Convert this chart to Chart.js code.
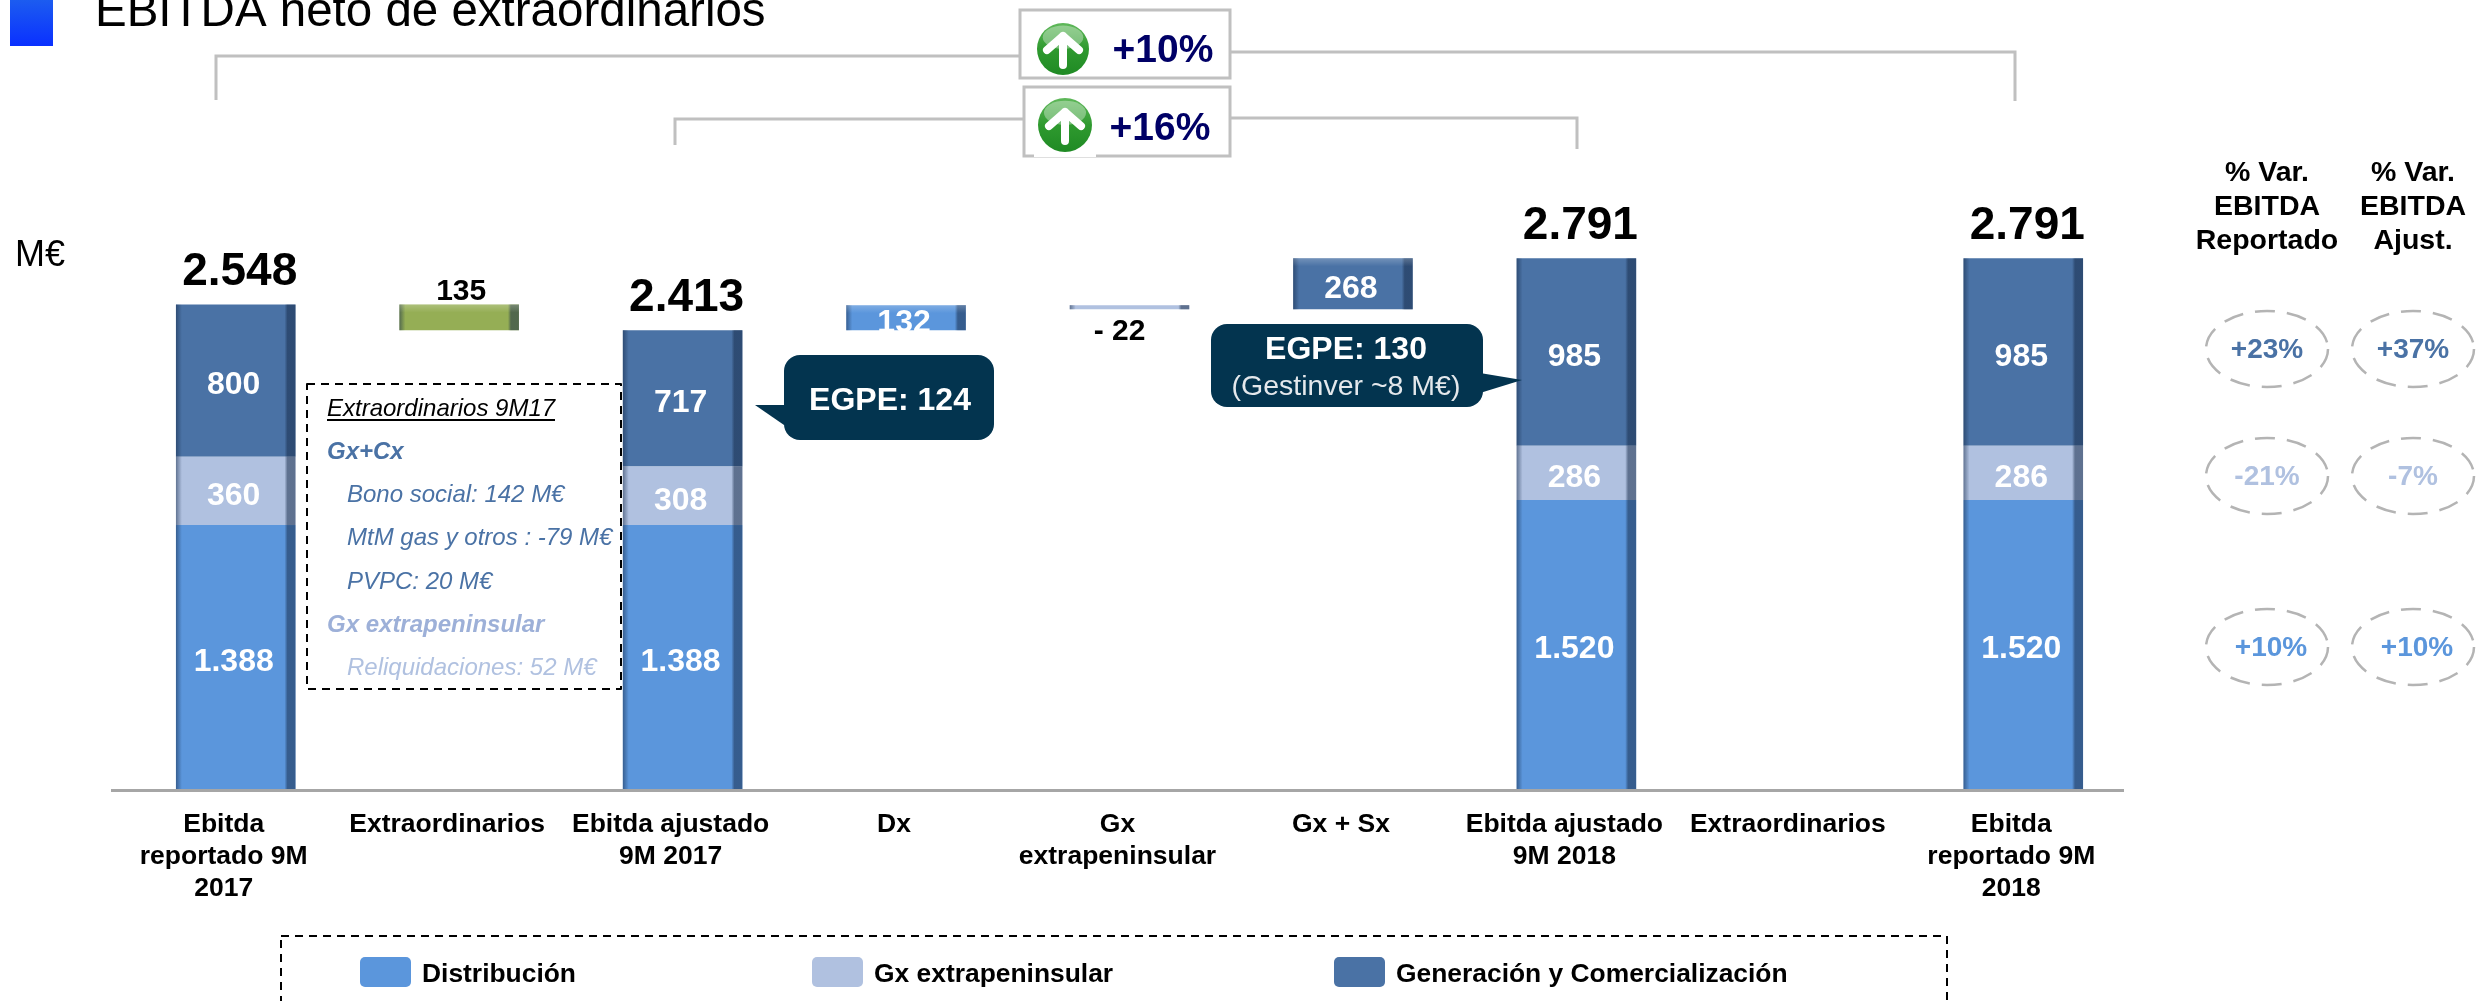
<!DOCTYPE html>
<html lang="es">

<head>
  <meta charset="UTF-8">
  <script src="https://cdn.jsdelivr.net/npm/chart.js@4"></script>
  <title>EBITDA neto de extraordinarios</title>
  <style>
    html, body { margin: 0; background: #fff; overflow: hidden; }
    canvas { display: block; }
  </style>
</head>

<body>
  <canvas id="myChart" width="2476" height="1001"></canvas>
  <script>
    const categories = [
      ['Ebitda', 'reportado 9M', '2017'], 'Extraordinarios', ['Ebitda ajustado', '9M 2017'],
      'Dx', ['Gx', 'extrapeninsular'], 'Gx + Sx', ['Ebitda ajustado', '9M 2018'],
      'Extraordinarios', ['Ebitda', 'reportado 9M', '2018']
    ];
    const offsetValues = [null, 2413, null, 2413, 2523, 2523, null, null, null];
    const distribucion = [1388, null, 1388, 132, null, null, 1520, null, 1520];
    const gxExtra = [360, null, 308, null, 22, null, 286, null, 286];
    const generacion = [800, null, 717, null, null, 268, 985, null, 985];
    const extraordinarios = [null, 135, null, null, null, null, null, null, null];
    const totals = [2548, null, 2413, null, null, null, 2791, null, 2791];

    const varHeaders = [['% Var.', 'EBITDA', 'Reportado'], ['% Var.', 'EBITDA', 'Ajust.']];
    const varReportado = ['+23%', '-21%', '+10%'];
    const varAjustado = ['+37%', '-7%', '+10%'];

    const BLUE = '#5b96dc', LIGHT = '#b0c1e0', DARK = '#4a72a5', GREEN = '#95ae55', NAVY = '#03344f';
    const FONT = '"Liberation Sans", Arial, sans-serif';

    function fmt(v) {
      return String(v).replace(/\B(?=(\d{3})+$)/g, '.');
    }

    function text(ctx, str, x, y, font, color, align) {
      ctx.font = font + ' ' + FONT;
      ctx.fillStyle = color;
      ctx.textAlign = align || 'center';
      ctx.textBaseline = 'middle';
      ctx.fillText(str, x, y + 2);
    }

    function roundBox(ctx, x, y, w, h, r, color) {
      ctx.fillStyle = color;
      ctx.beginPath();
      ctx.roundRect(x, y, w, h, r);
      ctx.fill();
    }

    function arrowIcon(ctx, cx, cy, r) {
      const g = ctx.createLinearGradient(0, cy - r, 0, cy + r);
      g.addColorStop(0, '#5fb85a');
      g.addColorStop(0.5, '#2f9a2f');
      g.addColorStop(1, '#1f8a24');
      ctx.fillStyle = g;
      ctx.beginPath();
      ctx.arc(cx, cy, r, 0, Math.PI * 2);
      ctx.fill();
      ctx.fillStyle = 'rgba(255,255,255,0.35)';
      ctx.beginPath();
      ctx.ellipse(cx, cy - r * 0.45, r * 0.78, r * 0.45, 0, 0, Math.PI * 2);
      ctx.fill();
      ctx.strokeStyle = '#fff';
      ctx.lineWidth = 8;
      ctx.lineCap = 'round';
      ctx.lineJoin = 'round';
      ctx.beginPath();
      ctx.moveTo(cx, cy + 16);
      ctx.lineTo(cx, cy - 13);
      ctx.moveTo(cx - 16, cy + 1);
      ctx.lineTo(cx, cy - 13);
      ctx.lineTo(cx + 16, cy + 1);
      ctx.stroke();
      ctx.lineCap = 'butt';
    }

    const baseLine = {
      id: 'baseLine',
      beforeDatasetsDraw(chart) {
        const ctx = chart.ctx;
        const y = chart.scales.y.getPixelForValue(0) + 1;
        ctx.save();
        ctx.fillStyle = '#a6a6a6';
        ctx.fillRect(111, y - 1, 2013, 3);
        ctx.restore();
      }
    };

    // bevel on the bars and the value labels, read from the bar elements
    const barExtras = {
      id: 'barExtras',
      afterDatasetsDraw(chart) {
        const ctx = chart.ctx;
        ctx.save();
        chart.data.datasets.forEach((ds, di) => {
          if (ds.hidden_offset) return;
          chart.getDatasetMeta(di).data.forEach((bar, i) => {
            if (ds.data[i] == null) return;
            const p = bar.getProps(['x', 'y', 'base', 'width']);
            const l = p.x - p.width / 2, r = p.x + p.width / 2, h = p.base - p.y;
            let g = ctx.createLinearGradient(l, 0, l + 6, 0);
            g.addColorStop(0, 'rgba(20,40,70,0.5)');
            g.addColorStop(1, 'rgba(20,40,70,0)');
            ctx.fillStyle = g;
            ctx.fillRect(l, p.y, 6, h);
            g = ctx.createLinearGradient(r - 11, 0, r - 8, 0);
            g.addColorStop(0, 'rgba(20,40,70,0)');
            g.addColorStop(1, 'rgba(20,40,70,0.52)');
            ctx.fillStyle = g;
            ctx.fillRect(r - 11, p.y, 11, h);
            // floating steps have a lighter top edge
            if (offsetValues[i] != null && h > 10) {
              g = ctx.createLinearGradient(0, p.y, 0, p.y + 8);
              g.addColorStop(0, 'rgba(255,255,255,0.22)');
              g.addColorStop(1, 'rgba(255,255,255,0)');
              ctx.fillStyle = g;
              ctx.fillRect(l, p.y, p.width, 8);
            }
          });
        });
        chart.data.datasets.forEach((ds, di) => {
          if (ds.hidden_offset) return;
          chart.getDatasetMeta(di).data.forEach((bar, i) => {
            if (ds.data[i] == null) return;
            const p = bar.getProps(['x', 'y', 'base']);
            if (ds === chart.data.datasets[2] && i === 4) {
              text(ctx, '- 22', p.x - 10, p.base + 20, 'bold 30px', '#000');
            } else if (ds === chart.data.datasets[4]) {
              text(ctx, fmt(ds.data[i]), p.x + 2, p.y - 15, 'bold 30px', '#000');
            } else {
              text(ctx, fmt(ds.data[i]), p.x - 2, (p.y + p.base) / 2 + 3, 'bold 32px', '#fff');
            }
          });
        });
        // totals above the columns
        totals.forEach((t, i) => {
          if (t == null) return;
          const x = chart.scales.x.getPixelForValue(i) + 4;
          text(ctx, fmt(t), x, chart.scales.y.getPixelForValue(t) - 34, 'bold 46px', '#000');
        });
        ctx.restore();
      }
    };

    const annotations = {
      id: 'annotations',
      afterDraw(chart) {
        const ctx = chart.ctx;
        ctx.save();

        // title and unit
        const sq = ctx.createLinearGradient(0, 0, 0, 46);
        sq.addColorStop(0, '#1c5cf0');
        sq.addColorStop(1, '#0a30ff');
        ctx.fillStyle = sq;
        ctx.fillRect(10, 0, 43, 46);
        text(ctx, 'EBITDA neto de extraordinarios', 95, 11, '47.5px', '#000', 'left');
        text(ctx, 'M€', 15, 254, '36px', '#000', 'left');

        // brackets
        ctx.strokeStyle = '#c0c0c0';
        ctx.lineWidth = 3;
        ctx.beginPath();
        ctx.moveTo(216, 100); ctx.lineTo(216, 56); ctx.lineTo(1019, 56);
        ctx.moveTo(1230, 52); ctx.lineTo(2015, 52); ctx.lineTo(2015, 101);
        ctx.moveTo(675, 145); ctx.lineTo(675, 119); ctx.lineTo(1023, 119);
        ctx.moveTo(1230, 118); ctx.lineTo(1577, 118); ctx.lineTo(1577, 149);
        ctx.stroke();
        ctx.strokeRect(1020, 10, 210, 68);
        ctx.strokeRect(1024, 87, 206, 69);
        ctx.fillStyle = '#fff';
        ctx.fillRect(1034, 154, 62, 3);
        arrowIcon(ctx, 1063, 49, 26);
        arrowIcon(ctx, 1065, 125, 27);
        text(ctx, '+10%', 1163, 49, 'bold 39px', '#000066');
        text(ctx, '+16%', 1160, 127, 'bold 39px', '#000066');

        // dashed note
        ctx.strokeStyle = '#000';
        ctx.lineWidth = 2;
        ctx.setLineDash([8, 6]);
        ctx.strokeRect(307, 384, 314, 305);
        ctx.setLineDash([]);
        text(ctx, 'Extraordinarios 9M17', 327, 407, 'italic 24px', '#000', 'left');
        ctx.fillStyle = '#000';
        ctx.fillRect(327, 419, 228, 2);
        text(ctx, 'Gx+Cx', 327, 450, 'italic bold 24px', DARK, 'left');
        text(ctx, 'Bono social: 142 M€', 347, 493, 'italic 24px', DARK, 'left');
        text(ctx, 'MtM gas y otros : -79 M€', 347, 536, 'italic 24px', DARK, 'left');
        text(ctx, 'PVPC: 20 M€', 347, 580, 'italic 24px', DARK, 'left');
        text(ctx, 'Gx extrapeninsular', 327, 623, 'italic bold 24px', '#9db0d8', 'left');
        text(ctx, 'Reliquidaciones: 52 M€', 347, 666, 'italic 24px', LIGHT, 'left');

        // callouts
        roundBox(ctx, 784, 355, 210, 85, 16, NAVY);
        ctx.beginPath();
        ctx.moveTo(755, 405); ctx.lineTo(790, 405); ctx.lineTo(790, 425); ctx.lineTo(784, 425);
        ctx.fill();
        text(ctx, 'EGPE: 124', 890, 399, 'bold 32px', '#fff');
        roundBox(ctx, 1211, 324, 272, 83, 16, NAVY);
        ctx.beginPath();
        ctx.moveTo(1522, 380); ctx.lineTo(1480, 373); ctx.lineTo(1480, 393);
        ctx.fill();
        text(ctx, 'EGPE: 130', 1346, 348, 'bold 32px', '#fff');
        text(ctx, '(Gestinver ~8 M€)', 1346, 385, '28.5px', '#e4e8ec');

        // % variation columns
        const colX = [2267, 2413];
        const headY = [171, 205, 239];
        varHeaders.forEach((lines, c) => {
          lines.forEach((l, n) => text(ctx, l, colX[c], headY[n], 'bold 28.5px', '#000'));
        });
        const rowY = [349, 476, 647];
        const rowColor = [DARK, LIGHT, BLUE];
        [varReportado, varAjustado].forEach((col, c) => {
          col.forEach((v, r) => {
            ctx.strokeStyle = '#b4b4b4';
            ctx.lineWidth = 2.5;
            ctx.setLineDash([20, 12]);
            ctx.beginPath();
            ctx.ellipse(colX[c], rowY[r], 61, 38, 0, 0, Math.PI * 2);
            ctx.stroke();
            ctx.setLineDash([]);
            text(ctx, v, colX[c] + (r === 2 ? 4 : 0), rowY[r] - 1, 'bold 28px', rowColor[r]);
          });
        });

        // legend
        ctx.strokeStyle = '#000';
        ctx.lineWidth = 2;
        ctx.setLineDash([8, 6]);
        ctx.strokeRect(281, 936, 1666, 90);
        ctx.setLineDash([]);
        const swatchX = [360, 812, 1334];
        chart.data.datasets.slice(1, 4).forEach((ds, i) => {
          roundBox(ctx, swatchX[i], 957, 51, 30, 5, ds.backgroundColor);
          text(ctx, ds.label, swatchX[i] + 62, 973, 'bold 26.4px', '#000', 'left');
        });
        ctx.restore();
      }
    };

    new Chart('myChart', {
      type: 'bar',
      data: {
        labels: categories,
        datasets: [
          { label: 'offset', data: offsetValues, backgroundColor: 'rgba(0,0,0,0)', hidden_offset: true },
          { label: 'Distribución', data: distribucion, backgroundColor: BLUE },
          { label: 'Gx extrapeninsular', data: gxExtra, backgroundColor: LIGHT },
          { label: 'Generación y Comercialización', data: generacion, backgroundColor: DARK },
          { label: 'Extraordinarios', data: extraordinarios, backgroundColor: GREEN }
        ]
      },
      options: {
        responsive: false,
        animation: false,
        layout: { padding: { left: 124, right: 341, top: 0, bottom: 0 } },
        plugins: { legend: { display: false }, tooltip: { enabled: false } },
        datasets: { bar: { barPercentage: 0.535, categoryPercentage: 1 } },
        scales: {
          x: {
            stacked: true,
            grid: { display: false, drawTicks: false },
            border: { display: false },
            afterFit(scale) { scale.height = 212; },
            ticks: {
              color: '#000',
              padding: 20,
              labelOffset: -12,
              autoSkip: false,
              maxRotation: 0,
              font: { family: FONT, size: 26.5, weight: 'bold', lineHeight: 1.21 }
            }
          },
          y: { stacked: true, display: false, min: 0, max: 4150 }
        }
      },
      plugins: [baseLine, barExtras, annotations]
    });
  </script>
</body>

</html>
